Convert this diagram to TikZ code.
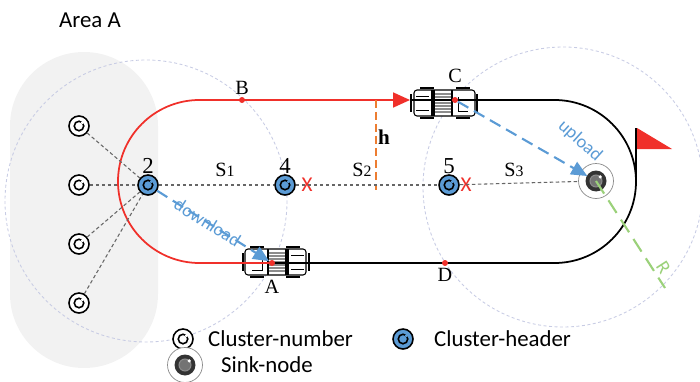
\documentclass[tikz,border=0pt]{standalone}
\usepackage{fontspec}
\setsansfont{Carlito}
\newfontfamily\lblfont{Liberation Serif}
\usetikzlibrary{arrows.meta,positioning}

\definecolor{hdblue}{HTML}{5B9BD5}
\definecolor{trackred}{HTML}{F0302A}
\definecolor{hgtorange}{HTML}{ED7D31}
\definecolor{rgreen}{HTML}{9BD17A}
\definecolor{rangeblue}{HTML}{C8CCE4}
\definecolor{areagray}{HTML}{F2F2F2}

\newcommand\seg[1]{S{\fontsize{9}{9}\selectfont #1}}

\begin{document}
\begin{tikzpicture}[
    x=0.02cm, y=-0.02cm,
    member/.style={
        circle,
        draw=black,
        line width=0.9pt,
        fill=white,
        minimum size=0.4cm,
        inner sep=0pt,
        path picture={
            \draw[line width=0.9pt] (path picture bounding box.center) circle (0.095cm);
            \fill (path picture bounding box.center) ++(45:0.1cm) circle (0.035cm);}},
    header/.style={member, fill=hdblue},
    sink/.style={
        circle,
        draw=black!45,
        line width=0.4pt,
        fill=white,
        minimum size=0.7cm,
        inner sep=0pt,
        path picture={
            \fill[black!80] (path picture bounding box.center) circle (0.21cm);
            \fill[black!55] (path picture bounding box.center) circle (0.12cm);
            \draw[line width=0.6pt] (path picture bounding box.center) circle (0.12cm);
            \fill (path picture bounding box.center) ++(45:0.12cm) circle (0.035cm);}},
    spot/.style={circle, fill=trackred, inner sep=0pt, minimum size=0.12cm},
    ptlbl/.style={font=\lblfont\fontsize{11.5}{11.5}\selectfont, inner sep=1pt},
    numlbl/.style={font=\lblfont\fontsize{13}{13}\selectfont, inner sep=0pt},
    seglbl/.style={font=\lblfont\fontsize{11.5}{11.5}\selectfont},
    xmark/.style={text=trackred, font=\sffamily\fontsize{12}{12}\selectfont, inner sep=0pt},
    link/.style={draw=black!60, line width=0.6pt, dash pattern=on 0.07cm off 0.05cm},
    rangecircle/.style={draw=rangeblue, line width=0.5pt, dash pattern=on 0.06cm off 0.05cm},
    redtrack/.style={draw=trackred, line width=1pt, rounded corners=1.63cm},
    blacktrack/.style={draw=black, line width=1pt, rounded corners=1.63cm},
    dataflow/.style={draw=hdblue, line width=1.2pt, dash pattern=on 0.24cm off 0.13cm,
        -{Triangle[length=0.32cm, width=0.28cm]}},
    flowlbl/.style={text=hdblue, font=\sffamily\fontsize{10.5}{10.5}\selectfont},
    legtext/.style={font=\sffamily\fontsize{13}{13}\selectfont, inner sep=0pt},
    truck/.pic={
        \draw[fill=white, line width=0.6pt, rounded corners=0.06cm] (-30,-13) rectangle (31,13);
        \draw[line width=1pt] (-33,-9) -- (-33,9) (33,-9) -- (33,9);
        \fill (-13,-13) rectangle (-9,13);
        \foreach \yy in {-9,-6,...,9}
            \draw[black!45, line width=1.1pt] (-9,\yy) -- (7,\yy);
        \draw[line width=0.6pt] (8,-13) -- (8,13);
        \draw[line width=1.2pt] (-24,-15) -- (-10,-15) (-24,15) -- (-10,15)
            (12,-15) -- (26,-15) (12,15) -- (26,15);
        \draw[line width=0.5pt] (-28,-7) -- (-15,-7) (-28,7) -- (-15,7)
            (14,-6) -- (14,8) -- (24,8);}
    ]
    \useasboundingbox (0,0) rectangle (700,382);

    % area with the member nodes
    \fill[areagray, rounded corners=1.48cm] (10,52) rectangle (158,368);
    \node[font=\sffamily\fontsize{13}{13}\selectfont] (area) at (90,20) {Area A};

    % communication ranges
    \draw[rangecircle] (146,201) circle (141);
    \draw[rangecircle] (563,187) circle (140);

    % vehicles
    \pic at (444,103) {truck};
    \pic[xscale=-1] at (276,262) {truck};

    % track of the mobile sink
    \coordinate (pA) at (272,263);
    \coordinate (pB) at (242,100);
    \coordinate (pC) at (455,100);
    \coordinate (pD) at (445,263);
    \coordinate (cfront) at (410,100);
    \draw[redtrack, -{Triangle[length=0.34cm, width=0.3cm]}]
        (pA) -- (118,263) -- (118,100) -- (cfront);
    \draw[blacktrack] (cfront) -- (636,100) -- (636,263) -- (pA);

    % flag at the end of the track
    \draw[line width=1pt] (636,181) -- (636,128);
    \fill[trackred] (637,128) -- (672,149) -- (637,149) -- cycle;

    % height of the track over the line of cluster headers
    \draw[draw=hgtorange, line width=1pt, dash pattern=on 0.16cm off 0.08cm] (376,100) -- (376,190);
    \node[font=\lblfont\bfseries\fontsize{12}{12}\selectfont] (hgt) at (384,137) {h};

    % sensor nodes
    \node[member] (m1) at (79,126) {};
    \node[member] (m2) at (79,185) {};
    \node[member] (m3) at (79,244) {};
    \node[member] (m4) at (79,303) {};
    \node[header, label={[numlbl]above:2}] (h2) at (148,185) {};
    \node[header, label={[numlbl]above:4}] (h4) at (285,185) {};
    \node[header, label={[numlbl]above:5}] (h5) at (449,185) {};
    \node[sink] (sk) at (596,181) {};
    \node[xmark] (x4) at (307,185) {X};
    \node[xmark] (x5) at (466,185) {X};

    \foreach \i/\j in {m1/h2, m2/h2, m3/h2, m4/h2, h2/h4, h4/h5, h5/sk}
        \draw[link] (\i) -- (\j);

    \node[seglbl] (s1) at (225,170) {\seg{1}};
    \node[seglbl] (s2) at (362,170) {\seg{2}};
    \node[seglbl] (s3) at (514,170) {\seg{3}};

    % positions of the vehicle
    \node[spot, label={[ptlbl]above:B}] (B) at (pB) {};
    \node[spot, label={[ptlbl, label distance=0.24cm]above:C}] (C) at (pC) {};
    \node[spot, label={[ptlbl, label distance=0.24cm]below:A}] (A) at (pA) {};
    \node[spot, label={[ptlbl]below:D}] (D) at (pD) {};

    % data transfer
    \draw[dataflow] (h2) -- node[flowlbl, sloped, pos=0.45] {download} (A);
    \draw[dataflow, shorten >=0.2cm] (C) -- (sk.center);
    \node[flowlbl, rotate=-42] (up) at (580,141) {upload};

    % radius of the sink range
    \coordinate (rend) at (665,288);
    \draw[draw=rgreen, line width=1.2pt, dash pattern=on 0.3cm off 0.16cm] (sk.center) --
        node[pos=0.86, sloped, text=rgreen, font=\sffamily\fontsize{11}{11}\selectfont, above=-2pt] {R} (rend);

    % legend
    \node[member] (lgm) at (183,339) {};
    \node[legtext, right=0.28cm of lgm] (lgmt) {Cluster-number};
    \node[header] (lgh) at (403,339) {};
    \node[legtext, right=0.4cm of lgh] (lght) {Cluster-header};
    \node[sink] (lgs) at (185,365) {};
    \node[legtext, right=0.36cm of lgs] (lgst) {Sink-node};
\end{tikzpicture}
\end{document}
